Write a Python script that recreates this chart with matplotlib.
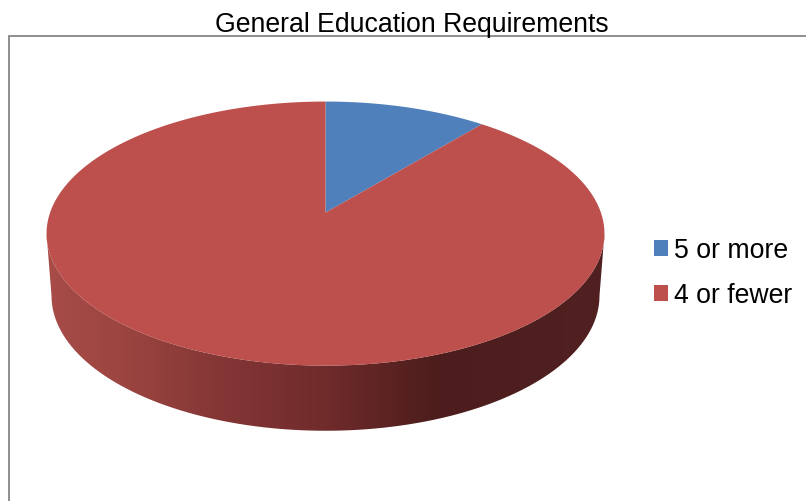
import numpy as np
import matplotlib
matplotlib.use("Agg")
import matplotlib.pyplot as plt
from matplotlib.colors import LinearSegmentedColormap
from matplotlib.patches import Patch, PathPatch
from matplotlib.path import Path

title = "General Education Requirements"
labels = ["5 or more", "4 or fewer"]
shares = [11, 89]
colors = ["#4F80BB", "#BD4F4C"]

plt.rcParams["font.family"] = ["Liberation Sans", "DejaVu Sans"]

TILT = 0.159


def disc_points(theta, cx, cy, a, b, k=TILT):
    # circle in the plane of the pie, tilted with a small perspective
    # theta runs clockwise from the back of the disc
    u, v = np.sin(theta), np.cos(theta)
    w = 1 + k * v
    return cx + a * u / w, cy - b * v / w


fig = plt.figure(figsize=(8.06, 5.02), dpi=100)
ax = fig.add_axes([0, 0, 1, 1])
ax.axis("off")

# chart frame, runs off the right and bottom edges
ax.plot([8.5, 8.5, 806], [502, 36.5, 36.5], color="#868686", lw=1.3, solid_joinstyle="miter")

ax.text(411.5, 25.5, title, fontsize=19.2, ha="center", va="center", color="#000000")

top = dict(cx=325.5, cy=213.6, a=275.4, b=128.7)
bottom = dict(cx=325.5, cy=275.4, a=270.5, b=131.5)

# side wall: front half of the top rim joined to the front half of the lower rim,
# both taken between the left and right extremes of the disc
right_end = np.arccos(-TILT)
front = np.linspace(right_end, 2 * np.pi - right_end, 200)
x1, y1 = disc_points(front, **top)
x2, y2 = disc_points(front, **bottom)
wall_x = np.concatenate([x1, x2[::-1]])
wall_y = np.concatenate([y1, y2[::-1]])
wall = PathPatch(Path(np.column_stack([wall_x, wall_y])), facecolor="none", edgecolor="none")
ax.add_patch(wall)

shade = LinearSegmentedColormap.from_list(
    "wall",
    [
        (0.00, "#A84C48"),
        (0.15, "#9A4440"),
        (0.30, "#853736"),
        (0.50, "#702B2B"),
        (0.70, "#4C1D1C"),
        (0.85, "#4E1F1E"),
        (1.00, "#502120"),
    ],
)
grad = np.linspace(0, 1, 256).reshape(1, -1)
im = ax.imshow(grad, extent=(46, 606, 440, 220), cmap=shade, aspect="auto", zorder=2)
im.set_clip_path(wall)
ax.set_xlim(0, 806)
ax.set_ylim(502, 0)

# top face, slices start at twelve o'clock and go clockwise
edges = np.cumsum([0] + shares) / sum(shares) * 2 * np.pi
for i in range(len(shares)):
    theta = np.linspace(edges[i], edges[i + 1], 300)
    x, y = disc_points(theta, **top)
    ax.fill(
        np.r_[top["cx"], x],
        np.r_[top["cy"], y],
        color=colors[i],
        lw=0,
        zorder=3,
    )

handles = [Patch(facecolor=c, edgecolor="none") for c in colors]
ax.legend(
    handles,
    labels,
    loc="upper left",
    bbox_to_anchor=(654 / 806, 1 - 238 / 502),
    frameon=False,
    fontsize=19.2,
    handlelength=0.54,
    handleheight=0.54,
    handletextpad=0.2,
    labelspacing=0.72,
    borderpad=0,
    borderaxespad=0,
)

fig.savefig("out.png", dpi=100)
